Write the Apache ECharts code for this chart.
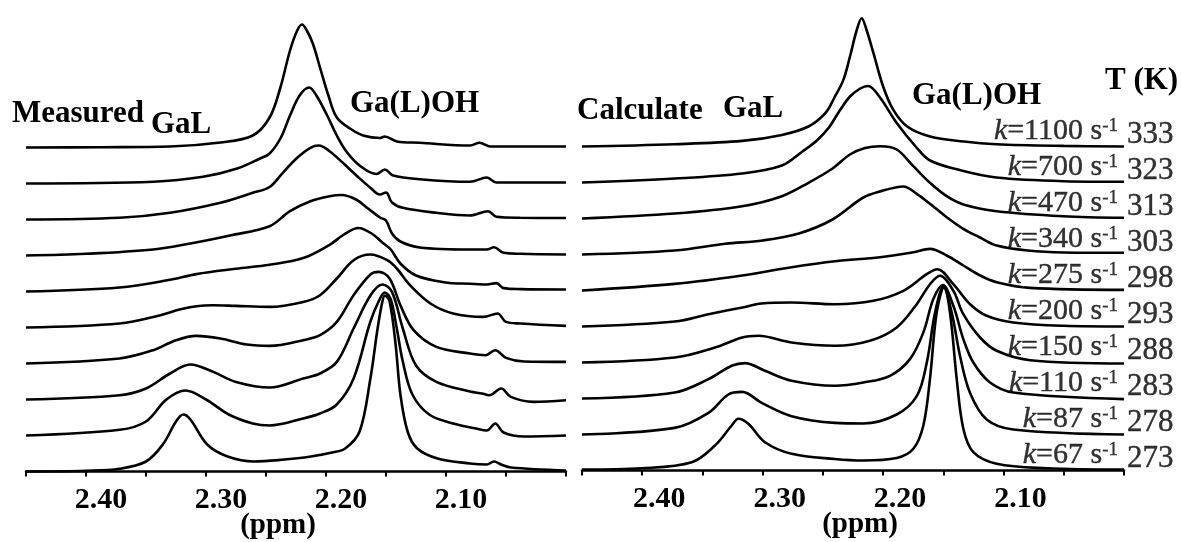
<!DOCTYPE html>
<html><head><meta charset="utf-8">
<script src="https://cdn.jsdelivr.net/npm/echarts@6/dist/echarts.min.js"></script>
<style>html,body{margin:0;padding:0;background:#fff}#c{width:1181px;height:542px}</style>
</head><body><div id="c"></div>
<script>
// ---- data (ppm, intensity a.u. above each trace's own baseline) ----
const temperatures = [273, 278, 283, 288, 293, 298, 303, 313, 323, 333];
const rateConstants = ['67', '87', '110', '150', '200', '275', '340', '470', '700', '1100'];
const tickLabels = ['2.40', '2.30', '2.20', '2.10'];

const measured273 = [[2.45,0],[2.40,0.7],[2.372,2.7],[2.35,10],[2.336,27],[2.325,50],[2.319,57],[2.313,52],[2.299,27],[2.282,15],[2.26,10],[2.237,11.7],[2.2125,15],[2.195,19],[2.184,23],[2.172,40],[2.163,93],[2.157,143],[2.153,170],[2.151,176],[2.147,170],[2.142,127],[2.138,77],[2.132,40],[2.124,23],[2.107,13],[2.08,8],[2.066,7],[2.06,10],[2.054,7],[2.046,4],[2.0,1]];
const measured278 = [[2.45,0],[2.372,5.7],[2.35,14],[2.333,36],[2.317,45],[2.30,36],[2.281,21],[2.261,12],[2.247,10],[2.219,17],[2.205,22],[2.191,31],[2.177,57],[2.163,114],[2.155,137],[2.151,143],[2.146,136],[2.141,107],[2.136,74],[2.128,41],[2.114,21],[2.094,12],[2.075,7],[2.066,5],[2.059,12],[2.052,3],[2.035,-1],[2.0,0]];
const measured283 = [[2.45,0],[2.372,4.3],[2.35,11],[2.33,26],[2.313,35],[2.294,27.6],[2.275,17.6],[2.247,12],[2.219,21],[2.205,26],[2.191,37.6],[2.177,71],[2.163,104],[2.153,115],[2.145,107.6],[2.136,71],[2.125,34],[2.108,17.6],[2.08,8],[2.07,6],[2.064,4.3],[2.054,11],[2.046,2.6],[2.027,-2.4],[2.0,-0.7]];
const measured288 = [[2.45,0],[2.372,5],[2.344,13.3],[2.325,23.3],[2.308,27.6],[2.288,25],[2.266,19],[2.247,17.6],[2.219,23.3],[2.205,28.3],[2.191,41.6],[2.177,68.3],[2.163,89],[2.156,91.6],[2.147,85],[2.138,58.3],[2.127,33.3],[2.108,16.6],[2.08,10],[2.067,8.3],[2.059,13.3],[2.05,5.6],[2.035,2],[2.0,1.6]];
const measured293 = [[2.45,0],[2.372,4],[2.338,12.3],[2.322,18],[2.308,21.3],[2.294,22.3],[2.275,21.6],[2.247,20.6],[2.219,25.6],[2.205,32.3],[2.191,49],[2.177,67.3],[2.163,73],[2.149,67.3],[2.141,59],[2.13,42.3],[2.113,24],[2.094,14],[2.069,10.6],[2.057,14],[2.05,5.6],[2.038,4],[2.0,1.6]];
const measured298 = [[2.45,0],[2.372,4],[2.33,11.7],[2.308,17.4],[2.275,22.7],[2.247,26.7],[2.219,33.4],[2.197,46.7],[2.185,57],[2.173,63.5],[2.162,58],[2.152,48],[2.146,42],[2.138,28],[2.125,16],[2.1,9],[2.08,7.7],[2.066,7],[2.058,8.4],[2.052,3.4],[2.038,2.4],[2.0,2]];
const measured303 = [[2.45,0],[2.40,1.7],[2.344,6],[2.313,12],[2.28,20],[2.247,29.3],[2.23,44.3],[2.213,54.3],[2.197,59.3],[2.187,60.5],[2.175,56],[2.165,47],[2.155,38],[2.15,35],[2.145,22],[2.138,14],[2.122,8],[2.08,6],[2.066,6],[2.06,8.3],[2.052,2.7],[2.038,1.7],[2.0,1]];
const measured313 = [[2.45,0],[2.372,1.7],[2.33,6.7],[2.288,16.7],[2.261,26.7],[2.247,32.5],[2.236,46.7],[2.224,61.7],[2.213,71.7],[2.206,74],[2.197,68.3],[2.186,56.7],[2.174,43.3],[2.163,31.7],[2.155,25],[2.15,27],[2.145,17],[2.136,11.7],[2.108,6.7],[2.08,4],[2.065,8.3],[2.058,2.7],[2.038,1.7],[2.0,1.5]];
const measured323 = [[2.45,0],[2.344,1.7],[2.3025,6.7],[2.274,15],[2.255,25],[2.247,30],[2.238,45],[2.23,68],[2.222,88],[2.214,96],[2.208,88],[2.199,68],[2.191,48],[2.183,32],[2.172,18],[2.158,9.5],[2.151,14],[2.144,8],[2.122,4.3],[2.08,1.7],[2.066,6],[2.058,1],[2.038,1],[2.0,1]];
const measured333 = [[2.45,0],[2.388,0.3],[2.33,1],[2.288,5],[2.261,12],[2.247,30],[2.238,60],[2.23,97],[2.224,117],[2.22,123],[2.216,117],[2.211,104],[2.205,80],[2.198,52],[2.191,30],[2.18,19],[2.169,12],[2.155,9.5],[2.151,11],[2.141,6],[2.122,4.7],[2.08,2],[2.072,4.7],[2.063,1],[2.038,1],[2.0,1]];

const calc273 = [[2.45,1],[2.4004,2.3],[2.3589,8.3],[2.3396,25],[2.3257,45],[2.3202,51.7],[2.3119,46.7],[2.2981,28.3],[2.2759,16.7],[2.24,11.5],[2.2164,10],[2.1887,12.5],[2.1749,21.7],[2.1666,45],[2.1611,91.7],[2.1555,158.3],[2.1494,183.3],[2.1445,158.3],[2.1389,91.7],[2.1334,41.7],[2.1251,18.3],[2.1057,6.7],[2.0642,2.3],[2.0,1]];
const calc278 = [[2.45,0],[2.373,6.6],[2.345,21.6],[2.3285,40],[2.317,42.6],[2.3008,31.6],[2.276,18.3],[2.24,11.6],[2.2164,11],[2.1887,20],[2.1721,38.3],[2.1638,71.6],[2.1569,121.6],[2.15,147.6],[2.143,121.6],[2.1361,78.3],[2.1278,41.6],[2.114,15],[2.0919,5],[2.0,0]];
const calc283 = [[2.45,0],[2.373,6],[2.345,19.4],[2.3257,32.7],[2.3147,35.4],[2.2981,27.7],[2.276,17.7],[2.24,12.7],[2.2164,16],[2.1943,22.7],[2.1777,39.4],[2.1666,66],[2.1583,99.4],[2.1505,113.4],[2.1417,92.7],[2.1334,59.4],[2.1251,36],[2.1112,16],[2.0919,6],[2.0,-0.6]];
const calc288 = [[2.45,0],[2.373,5],[2.3396,15],[2.317,25],[2.3036,26.7],[2.276,20],[2.24,16.7],[2.2109,21.7],[2.1887,35],[2.1721,58.3],[2.1611,78.3],[2.1528,86.7],[2.1417,71.7],[2.1334,48.3],[2.1195,25],[2.1057,11.7],[2.078,2.3],[2.0,-1]];
const calc293 = [[2.45,0],[2.373,5],[2.345,12.3],[2.317,19],[2.301,23],[2.276,24],[2.24,22.3],[2.2081,25.7],[2.1832,35.7],[2.1638,52.3],[2.155,57.3],[2.1417,42.3],[2.1278,22.3],[2.114,10.7],[2.0919,4],[2.05,0.7],[2.0,0]];
const calc298 = [[2.45,0],[2.373,6.6],[2.317,15],[2.276,23.3],[2.24,29.3],[2.2026,33.3],[2.1749,38.3],[2.1611,41.6],[2.1472,35],[2.1334,25],[2.1195,15],[2.1057,8.3],[2.078,2.6],[2.0,0.6]];
const calc303 = [[2.45,0],[2.373,4],[2.331,10.7],[2.30,14],[2.27,21],[2.242,35],[2.2164,57],[2.2,64],[2.1887,67.3],[2.1832,68],[2.1721,60.7],[2.1611,50.7],[2.1472,37.3],[2.1334,25.7],[2.1195,17],[2.1057,9],[2.08,4],[2.05,2],[2.0,1.7]];
const calc313 = [[2.45,0],[2.373,5],[2.317,12.3],[2.284,22.3],[2.262,35.7],[2.242,50],[2.2275,64],[2.215,70.5],[2.2026,72.3],[2.1887,69],[2.1749,52.3],[2.1611,35.7],[2.1472,22.3],[2.1334,14],[2.1057,7.3],[2.0506,2.3],[2.0,0.7]];
const calc323 = [[2.45,0],[2.373,4],[2.317,9],[2.284,17],[2.267,31],[2.255,42],[2.245,55],[2.236,72],[2.2275,86],[2.219,94],[2.2125,96.5],[2.2026,85],[2.189,60],[2.173,36],[2.161,22],[2.135,12],[2.106,5],[2.05,1.3],[2.0,0.7]];
const calc333 = [[2.45,0],[2.373,2.3],[2.317,5.6],[2.284,11.6],[2.262,20],[2.248,33.3],[2.24,50],[2.233,66.6],[2.2275,90],[2.222,116],[2.2178,128.3],[2.2136,116],[2.208,93.3],[2.20,60],[2.1915,36.6],[2.18,20],[2.161,10],[2.133,5],[2.106,2.3],[2.05,0.6],[2.0,0]];

const measuredSpectra = [measured273, measured278, measured283, measured288, measured293, measured298, measured303, measured313, measured323, measured333];
const calculatedSpectra = [calc273, calc278, calc283, calc288, calc293, calc298, calc303, calc313, calc323, calc333];

// ---- layout / style ----
const STEP = 36;          // vertical stacking step between traces (a.u.)
const FONT = '"Liberation Serif", "Times New Roman", serif';
const chart = echarts.init(document.getElementById('c'), null, {renderer: 'canvas'});

function stacked(spec, i) { return spec.map(p => [p[0], p[1] + i * STEP]); }
function makeX(gridIndex, padLeft, namePad) {
  return {
    gridIndex, type: 'value', min: 2.0, max: 2.45, interval: 0.05, inverse: true,
    splitLine: {show: false},
    axisLine: {show: true, onZero: false, lineStyle: {color: '#000', width: 2.5}},
    axisTick: {show: true, length: 5, lineStyle: {color: '#000', width: 2}},
    axisLabel: {
      show: true, margin: 14, color: '#000', fontFamily: FONT, fontWeight: 'bold', fontSize: 30,
      padding: [0, 0, 0, padLeft],
      formatter: v => { const s = v.toFixed(2); return tickLabels.includes(s) ? s : ''; }
    },
    name: '(ppm)', nameLocation: 'middle', nameGap: 40, nameMoveOverlap: false,
    nameTextStyle: {color: '#000', fontFamily: FONT, fontWeight: 'bold', fontSize: 29, padding: namePad}
  };
}
function makeY(gridIndex) {
  return {gridIndex, type: 'value', min: 0, max: 460, show: false, splitLine: {show: false}};
}

const series = [];
measuredSpectra.forEach((s, i) => series.push({
  type: 'line', xAxisIndex: 0, yAxisIndex: 0, data: stacked(s, i), showSymbol: false,
  smooth: 0.35, lineStyle: {color: '#000', width: 2.6}, silent: true, z: 2, clip: false
}));
calculatedSpectra.forEach((s, i) => series.push({
  type: 'line', xAxisIndex: 1, yAxisIndex: 1, data: stacked(s, i), showSymbol: false,
  smooth: 0.35, lineStyle: {color: '#000', width: 2.6}, silent: true, z: 2, clip: false
}));
// temperature labels at the right end of each calculated trace
series.push({
  type: 'scatter', xAxisIndex: 1, yAxisIndex: 1, symbolSize: 0, silent: true, z: 5, clip: false,
  data: temperatures.map((t, i) => [2.0, i * STEP]),
  label: {show: true, position: 'right', distance: 3, offset: [0, -12],
    formatter: p => String(temperatures[p.dataIndex]),
    color: '#000', fontFamily: FONT, fontSize: 31, textBorderColor: '#000', textBorderWidth: 0.4}
});
// rate constants, written over the right part of each calculated trace
series.push({
  type: 'scatter', xAxisIndex: 1, yAxisIndex: 1, symbolSize: 0, silent: true, z: 5, clip: false,
  data: rateConstants.map((k, i) => [2.0, i * STEP]),
  label: {show: true, position: 'left', distance: 6, offset: [0, -15],
    formatter: p => '{k|k}{t|=' + rateConstants[p.dataIndex] + ' s}{s|-1}',
    rich: {
      k: {fontFamily: FONT, fontStyle: 'italic', fontSize: 30, color: '#000', lineHeight: 30, textBorderColor: '#000', textBorderWidth: 0.4},
      t: {fontFamily: FONT, fontSize: 30, color: '#000', lineHeight: 30, textBorderColor: '#000', textBorderWidth: 0.4},
      s: {fontFamily: FONT, fontSize: 19, color: '#000', verticalAlign: 'top', lineHeight: 30, textBorderColor: '#000', textBorderWidth: 0.3}
    }}
});

function txt(text, x, baseline, size) {
  return {type: 'text', x: x, y: baseline - 0.34 * size, z: 10, silent: true,
    style: {text, fill: '#000', font: 'bold ' + size + 'px ' + FONT, textVerticalAlign: 'middle', textAlign: 'left'}};
}

chart.setOption({
  animation: false,
  backgroundColor: '#fff',
  grid: [
    {left: 26, top: 11.5, width: 540, height: 460, outerBoundsMode: 'none', containLabel: false},
    {left: 582, top: 10.5, width: 542, height: 460, outerBoundsMode: 'none', containLabel: false}
  ],
  xAxis: [makeX(0, 30, [0, 36, 0, 0]), makeX(1, 34, [0, 0, 0, 14])],
  yAxis: [makeY(0), makeY(1)],
  series,
  graphic: {elements: [
    txt('Measured', 12, 125, 31),
    txt('GaL', 151, 136, 31),
    txt('Ga(L)OH', 350, 115, 31),
    txt('Calculate', 577, 121.7, 31),
    txt('GaL', 723, 120, 31),
    txt('Ga(L)OH', 912, 106.7, 31),
    txt('T (K)', 1105, 91.7, 31)
  ]}
});
</script>
</body></html>
